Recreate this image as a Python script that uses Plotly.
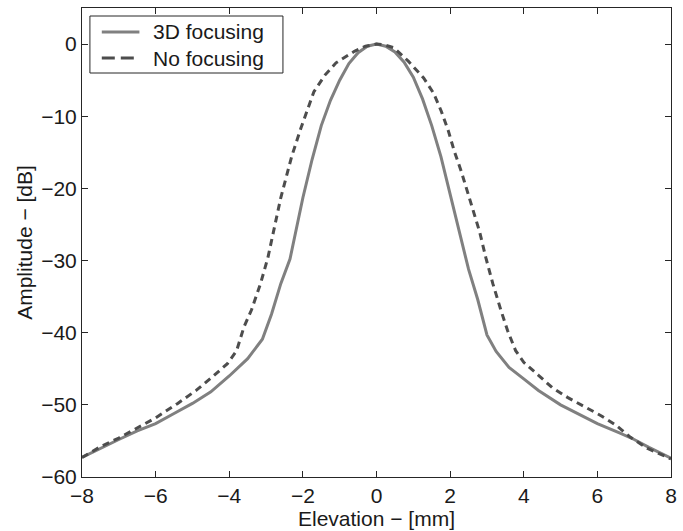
import plotly.graph_objects as go

# Elevation profiles of the beam amplitude (dB) versus elevation (mm)
focus_x = [-8.0, -7.5, -7.0, -6.5, -6.0, -5.5, -5.0, -4.5, -4.0, -3.5, -3.1, -2.85,
           -2.6, -2.35, -2.0, -1.75, -1.5, -1.25, -1.0, -0.75, -0.5, -0.25, 0.0,
           0.25, 0.5, 0.75, 1.0, 1.25, 1.5, 1.75, 2.0, 2.25, 2.5, 2.75, 3.0, 3.25,
           3.6, 4.0, 4.4, 5.0, 5.4, 6.0, 6.6, 7.0, 7.4, 8.0]
focus_db = [-57.3, -56.0, -54.8, -53.6, -52.6, -51.2, -49.8, -48.2, -46.0, -43.6, -40.9, -37.4,
            -33.2, -29.8, -21.3, -16.0, -11.3, -7.8, -5.0, -2.7, -1.2, -0.3, 0.0,
            -0.3, -1.1, -2.5, -4.6, -7.6, -11.3, -15.6, -20.7, -26.2, -31.2, -35.4, -40.3, -42.6,
            -44.8, -46.4, -48.0, -50.0, -51.0, -52.6, -53.9, -54.8, -55.9, -57.4]

nofocus_x = [-8.0, -7.5, -7.0, -6.5, -6.0, -5.4, -4.9, -4.5, -4.05, -3.8, -3.6, -3.4,
             -3.15, -2.95, -2.6, -2.3, -2.05, -1.7, -1.4, -1.1, -0.85, -0.6, -0.3, 0.0,
             0.2, 0.47, 0.87, 1.28, 1.55, 1.76, 1.95, 2.11, 2.3, 2.6, 2.8, 2.97, 3.16,
             3.38, 3.56, 3.78, 4.0, 4.4, 4.77, 5.2, 5.6, 6.1, 6.5, 6.9, 7.35, 8.0]
nofocus_db = [-57.3, -55.8, -54.6, -53.2, -51.8, -49.8, -48.0, -46.3, -44.3, -42.5, -39.2, -36.9,
              -33.2, -29.6, -21.3, -15.5, -11.6, -6.6, -4.3, -2.6, -1.8, -1.0, -0.3, 0.0,
              -0.1, -0.5, -2.4, -4.7, -6.8, -9.3, -12.0, -14.8, -17.6, -22.5, -26.0, -29.6, -33.2,
              -36.9, -39.7, -42.5, -44.1, -45.9, -47.6, -49.0, -50.1, -51.5, -52.8, -54.5, -56.0, -57.5]

series_names = ["3D focusing", "No focusing"]
series_colors = ["#808080", "#4d4d4d"]
series_dash = ["solid", "7px,5px"]
legend_dash = ["solid", "13px,6px"]

x_ticks = [-8, -6, -4, -2, 0, 2, 4, 6, 8]
y_ticks = [-60, -50, -40, -30, -20, -10, 0]

FONT = "Liberation Sans, Arial, Helvetica, sans-serif"
FS = 21
W, H = 683, 531
ML, MR, MT, MB = 82, 6, 8, 54
PW, PH = W - ML - MR, H - MT - MB


def px_x(p):
    """pixel column -> paper x"""
    return (p - ML) / PW


def px_y(p):
    """pixel row -> paper y"""
    return 1 - (p - MT) / PH


fig = go.Figure()
for xs, ys, name, color, dash in zip([focus_x, nofocus_x], [focus_db, nofocus_db],
                                     series_names, series_colors, series_dash):
    fig.add_trace(go.Scatter(
        x=xs, y=ys, mode="lines", name=name,
        line=dict(color=color, width=3, dash=dash),
    ))

# Boxed legend in the upper-left corner
shapes = [dict(type="rect", xref="paper", yref="paper",
               x0=px_x(90), x1=px_x(285), y0=px_y(73), y1=px_y(16),
               line=dict(color="#262626", width=1), fillcolor="white", layer="above")]
annotations = []
for i, (name, color, dash) in enumerate(zip(series_names, series_colors, legend_dash)):
    row = 32 + 26 * i
    shapes.append(dict(type="line", xref="paper", yref="paper",
                       x0=px_x(102), x1=px_x(140), y0=px_y(row), y1=px_y(row),
                       line=dict(color=color, width=3, dash=dash),
                       layer="above"))
    annotations.append(dict(xref="paper", yref="paper", x=px_x(152), y=px_y(row),
                            xanchor="left", yanchor="middle", showarrow=False,
                            text=name, font=dict(family=FONT, size=FS, color="#1a1a1a")))

axis_common = dict(
    showline=True, linecolor="#262626", linewidth=1, mirror="ticks",
    ticks="inside", ticklen=6, tickcolor="#262626", tickwidth=1,
    showgrid=False, zeroline=False,
    tickfont=dict(family=FONT, size=FS, color="#1a1a1a"),
)

fig.update_layout(
    width=W, height=H,
    margin=dict(l=ML, r=MR, t=MT, b=MB),
    paper_bgcolor="white", plot_bgcolor="white",
    font=dict(family=FONT, size=FS, color="#1a1a1a"),
    xaxis=dict(
        range=[-8, 8], tickvals=x_ticks,
        title=dict(text="Elevation − [mm]", font=dict(family=FONT, size=FS), standoff=2),
        **axis_common,
    ),
    yaxis=dict(
        range=[-60, 5], tickvals=y_ticks,
        title=dict(text="Amplitude − [dB]", font=dict(family=FONT, size=FS), standoff=2),
        **axis_common,
    ),
    shapes=shapes,
    annotations=annotations,
    showlegend=False,
)

fig.write_html("out.html")
